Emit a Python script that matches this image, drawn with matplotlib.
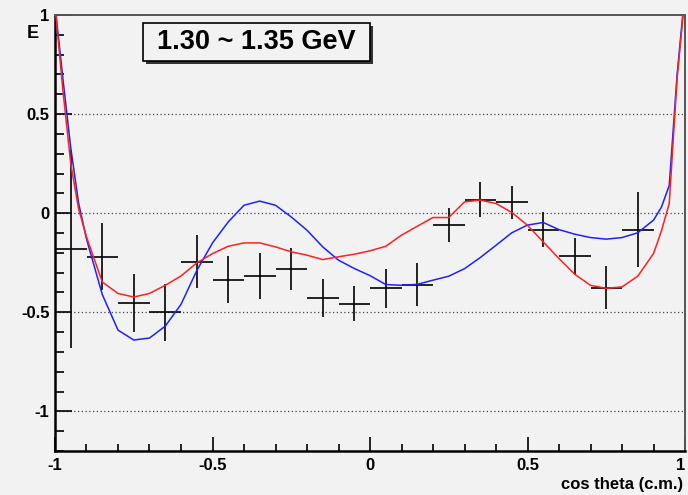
import matplotlib
matplotlib.use("Agg")
import matplotlib.pyplot as plt
from matplotlib.ticker import MultipleLocator, FixedLocator
from matplotlib.patches import Rectangle

plt.rcParams['font.family'] = ['Liberation Sans', 'DejaVu Sans']

# measured points (bin centres, value, error)
xdata = [-0.95, -0.85, -0.75, -0.65, -0.55, -0.45, -0.35, -0.25, -0.15, -0.05,
         0.05, 0.15, 0.25, 0.35, 0.45, 0.55, 0.65, 0.75, 0.85]
ydata = [-0.18, -0.22, -0.455, -0.50, -0.245, -0.335, -0.317, -0.283, -0.428, -0.456,
         -0.38, -0.36, -0.059, 0.069, 0.054, -0.083, -0.217, -0.375, -0.083]
yerr = [0.50, 0.17, 0.146, 0.143, 0.135, 0.12, 0.114, 0.105, 0.094, 0.09,
        0.098, 0.108, 0.086, 0.086, 0.084, 0.088, 0.093, 0.11, 0.19]
xerr = 0.05

# model curves
xcurve = [-1.0, -0.975, -0.95, -0.925, -0.9, -0.85, -0.8, -0.75, -0.7, -0.65, -0.6,
          -0.55, -0.5, -0.45, -0.4, -0.35, -0.3, -0.25, -0.2, -0.15, -0.1, -0.05,
          0.0, 0.05, 0.1, 0.15, 0.2, 0.25, 0.3, 0.35, 0.4, 0.45, 0.5, 0.55, 0.6,
          0.65, 0.7, 0.75, 0.8, 0.85, 0.9, 0.925, 0.95, 0.975, 1.0]
red = [1.05, 0.62, 0.25, 0.02, -0.12, -0.347, -0.405, -0.423, -0.405, -0.364, -0.317,
       -0.251, -0.204, -0.167, -0.15, -0.15, -0.17, -0.195, -0.212, -0.234, -0.22, -0.207,
       -0.19, -0.167, -0.111, -0.066, -0.022, -0.022, 0.057, 0.066, 0.049, 0.004, -0.061,
       -0.145, -0.229, -0.308, -0.364, -0.379, -0.372, -0.318, -0.204, -0.09, 0.049,
       0.68, 1.1]
blue = [1.05, 0.68, 0.33, 0.05, -0.13, -0.41, -0.59, -0.64, -0.63, -0.57, -0.46,
        -0.29, -0.15, -0.044, 0.04, 0.061, 0.04, -0.019, -0.086, -0.17, -0.237, -0.279,
        -0.315, -0.36, -0.364, -0.359, -0.338, -0.318, -0.28, -0.224, -0.162, -0.099,
        -0.06, -0.047, -0.083, -0.106, -0.123, -0.131, -0.123, -0.099, -0.035, 0.03,
        0.14, 0.7, 1.12]

xticks = [-1, -0.5, 0, 0.5, 1]
yticks = [-1, -0.5, 0, 0.5, 1]
tick_labels = ['-1', '-0.5', '0', '0.5', '1']

W, H = 688, 495
bg = '#f2f2f2'
fig = plt.figure(figsize=(W/100, H/100), dpi=100, facecolor=bg)
ax = fig.add_axes([55/W, 44/H, 630/W, 436/H], facecolor=bg)

ax.errorbar(xdata, ydata, xerr=xerr, yerr=yerr, fmt='none', ecolor='black',
            elinewidth=1.2, capsize=0, zorder=2)
ax.plot(xcurve, blue, color='#2020ff', lw=1.1, zorder=3)
ax.plot(xcurve, red, color='#ff2020', lw=1.1, zorder=3)

ax.set_xlim(-1, 1)
ax.set_ylim(-1.2, 1)

ax.xaxis.set_major_locator(FixedLocator(xticks))
ax.xaxis.set_minor_locator(MultipleLocator(0.1))
ax.yaxis.set_major_locator(FixedLocator(yticks))
ax.yaxis.set_minor_locator(MultipleLocator(0.1))
ax.set_xticklabels(tick_labels)
ax.set_yticklabels(tick_labels)

ax.tick_params(axis='both', which='both', direction='in', colors='black',
               labelsize=12, top=False, right=False)
ax.tick_params(axis='y', which='major', length=12, width=1.2, pad=4)
ax.tick_params(axis='y', which='minor', length=6.5, width=1.2)
ax.tick_params(axis='x', which='major', length=10, width=1.2, pad=5)
ax.tick_params(axis='x', which='minor', length=5, width=1.2)
for lab in ax.get_xticklabels() + ax.get_yticklabels():
    lab.set_fontweight('bold')
ax.get_xticklabels()[-1].set_horizontalalignment('right')

for g in [-1, -0.5, 0, 0.5]:
    ax.axhline(g, color='#444444', lw=0.9, ls=(0, (1, 2)), zorder=1)

for s in ['left', 'bottom']:
    ax.spines[s].set_linewidth(1.8)
    ax.spines[s].set_color('black')
for s in ['top', 'right']:
    ax.spines[s].set_linewidth(1.4)
    ax.spines[s].set_color('#555555')

fig.text(33/W, 1 - 33/H, 'E', fontsize=13, fontweight='bold',
         ha='center', va='center')
fig.text(683/W, 1 - 485/H, 'cos theta (c.m.)', fontsize=12, fontweight='bold',
         ha='right', va='center')

# title box with shadow
bx0, by0, bx1, by1 = 143, 23, 370, 61
fig.patches.append(Rectangle(((bx0 + 3)/W, 1 - (by1 + 3)/H), (bx1 - bx0)/W, (by1 - by0)/H,
                             transform=fig.transFigure, facecolor='#333333',
                             edgecolor='none', zorder=5))
fig.patches.append(Rectangle((bx0/W, 1 - by1/H), (bx1 - bx0)/W, (by1 - by0)/H,
                             transform=fig.transFigure, facecolor=bg,
                             edgecolor='black', lw=1.2, zorder=6))
fig.text((bx0 + bx1)/2/W, 1 - (by0 + by1)/2/H, '1.30 ~ 1.35 GeV', fontsize=19.5,
         fontweight='bold', ha='center', va='center', zorder=7)

fig.savefig('out.png', dpi=100, facecolor=bg)
